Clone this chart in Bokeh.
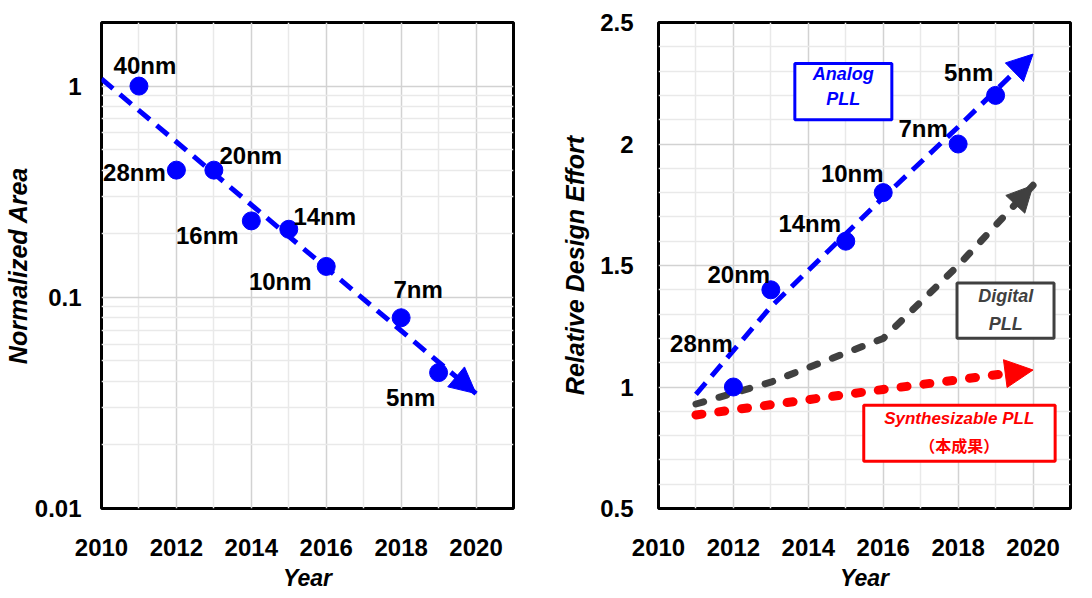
from bokeh.plotting import figure
from bokeh.layouts import row
from bokeh.models import (ColumnDataSource, FixedTicker, Range1d, Label, BoxAnnotation,
                          Arrow, NormalHead, CustomJSTickFormatter)
from bokeh.core.properties import value
from bokeh.embed import file_html
from bokeh.resources import INLINE

# ---------------- data ----------------
year_ticks = [2010, 2012, 2014, 2016, 2018, 2020]
year_minor = [2011, 2013, 2015, 2017, 2019, 2021]

# left: normalized area (log)
area_years = [2011, 2012, 2013, 2014, 2015, 2016, 2018, 2019]
area_values = [1.0, 0.40, 0.40, 0.23, 0.21, 0.14, 0.08, 0.044]
area_nodes = ["40nm", "28nm", "20nm", "16nm", "14nm", "10nm", "7nm", "5nm"]
area_trend_x = [2010, 2020]
area_trend_y = [1.08, 0.035]
area_ticks = [0.01, 0.1, 1]
area_minor = [0.02, 0.03, 0.04, 0.05, 0.06, 0.07, 0.08, 0.09,
              0.2, 0.3, 0.4, 0.5, 0.6, 0.7, 0.8, 0.9, 2]

# right: relative design effort
effort_years = [2012, 2013, 2015, 2016, 2018, 2019]
effort_values = [1.0, 1.4, 1.6, 1.8, 2.0, 2.2]
effort_nodes = ["28nm", "20nm", "14nm", "10nm", "7nm", "5nm"]
analog_x = [2011, 2013, 2016, 2018, 2020]
analog_y = [0.97, 1.33, 1.78, 2.07, 2.37]
digital_x = [2011, 2013, 2014, 2016, 2018, 2020]
digital_y = [0.93, 1.02, 1.08, 1.20, 1.50, 1.83]
synth_x = [2011, 2016, 2020]
synth_y = [0.885, 0.99, 1.07]
effort_ticks = [0.5, 1.0, 1.5, 2.0, 2.5]
effort_minor = [0.6, 0.7, 0.8, 0.9, 1.1, 1.2, 1.3, 1.4, 1.6, 1.7, 1.8, 1.9,
                2.1, 2.2, 2.3, 2.4]

# label pixel offsets (style)
area_dx = [6, -42, 37, -44, 36, -46, 17, -28]
area_dy = [-21, 2, -15, 15, -13, 15, -28, 25]
effort_dx = [-32, -32, -36, -31, -35, -27]
effort_dy = [-44, -15, -18, -19, -16, -23]

FONT = "Liberation Sans"
BLUE = "#0000ff"
GRAY = "#404040"
RED = "#ff0000"


def style(p, xt, yt):
    p.outline_line_color = "black"
    p.outline_line_width = 3
    p.background_fill_color = "white"
    p.border_fill_color = "white"
    for ax in (p.xaxis[0], p.yaxis[0]):
        ax.axis_line_color = None
        ax.major_tick_line_color = None
        ax.minor_tick_line_color = None
        ax.major_tick_out = 0
        ax.major_tick_in = 0
        ax.minor_tick_out = 0
        ax.minor_tick_in = 0
        ax.major_label_text_font = FONT
        ax.major_label_text_font_style = "bold"
        ax.major_label_text_font_size = "24px"
        ax.major_label_text_color = "black"
        ax.axis_label_text_font = FONT
        ax.axis_label_text_font_style = "bold italic"
        ax.axis_label_text_color = "black"
    p.xaxis[0].axis_label_text_font_size = "23px"
    p.yaxis[0].axis_label_text_font_size = "25px"
    p.xaxis[0].ticker = xt
    p.yaxis[0].ticker = yt
    p.xgrid[0].ticker = xt
    p.ygrid[0].ticker = yt
    p.xaxis[0].major_label_standoff = 30
    p.xaxis[0].axis_label_standoff = 6
    for g in (p.xgrid[0], p.ygrid[0]):
        g.grid_line_color = "#d2d2d2"
        g.grid_line_width = 1.5
        g.minor_grid_line_color = "#e9e9e9"
        g.minor_grid_line_width = 1.5


def head(color, size):
    return NormalHead(size=size, fill_color=color, line_color=color)


# ---------------- left figure ----------------
p1 = figure(width=546, height=595, frame_width=412, frame_height=486,
            x_range=Range1d(2010, 2021), y_range=Range1d(0.01, 2.0),
            y_axis_type="log", output_backend="svg", toolbar_location=None,
            min_border_left=95, min_border_right=39, min_border_top=22, min_border_bottom=87,
            x_axis_label="Year", y_axis_label="Normalized Area")
style(p1, FixedTicker(ticks=year_ticks, minor_ticks=year_minor),
      FixedTicker(ticks=area_ticks, minor_ticks=area_minor))
p1.yaxis[0].formatter = CustomJSTickFormatter(code="return String(tick)")
p1.yaxis[0].major_label_standoff = 20
p1.yaxis[0].axis_label_standoff = 0

p1.line(area_trend_x, area_trend_y, line_color=BLUE, line_width=5, line_dash="15 9")
p1.add_layout(Arrow(end=head(BLUE, 26),
                    x_start=area_trend_x[-2], y_start=area_trend_y[-2],
                    x_end=area_trend_x[-1], y_end=area_trend_y[-1], line_alpha=0))
src1 = ColumnDataSource(dict(x=area_years, y=area_values, t=area_nodes, dx=area_dx, dy=area_dy))
p1.scatter("x", "y", source=src1, size=18, color=BLUE)
p1.text("x", "y", text="t", source=src1, x_offset="dx", y_offset="dy",
        text_align="center", text_baseline="middle", text_font=value(FONT),
        text_font_style="bold", text_font_size="24px", text_color="black")

# ---------------- right figure ----------------
p2 = figure(width=530, height=595, frame_width=412, frame_height=486,
            x_range=Range1d(2010, 2021), y_range=Range1d(0.5, 2.5),
            output_backend="svg", toolbar_location=None,
            min_border_left=106, min_border_right=12, min_border_top=22, min_border_bottom=87,
            x_axis_label="Year", y_axis_label="Relative Design Effort")
style(p2, FixedTicker(ticks=year_ticks, minor_ticks=year_minor),
      FixedTicker(ticks=effort_ticks, minor_ticks=effort_minor))
p2.yaxis[0].formatter = CustomJSTickFormatter(code="return String(tick)")
p2.yaxis[0].major_label_standoff = 25
p2.yaxis[0].axis_label_standoff = 8

# boxes (annotations)
box_kw = dict(fill_color="white", fill_alpha=1, line_alpha=1, line_width=3)
p2.add_layout(BoxAnnotation(left=2013.64, right=2016.23, bottom=2.10, top=2.331,
                            line_color=BLUE, **box_kw))
p2.add_layout(BoxAnnotation(left=2017.97, right=2020.56, bottom=1.201, top=1.428,
                            line_color=GRAY, **box_kw))
p2.add_layout(BoxAnnotation(left=2015.48, right=2020.59, bottom=0.694, top=0.925,
                            line_color=RED, **box_kw))

# trend lines
p2.line(synth_x, synth_y, line_color=RED, line_width=9, line_dash="6 17", line_cap="round")
p2.add_layout(Arrow(end=head(RED, 28),
                    x_start=synth_x[-2], y_start=synth_y[-2], x_end=synth_x[-1], y_end=synth_y[-1],
                    line_alpha=0))
p2.line(digital_x, digital_y, line_color=GRAY, line_width=7, line_dash="8 16", line_cap="round")
p2.add_layout(Arrow(end=head(GRAY, 26),
                    x_start=digital_x[-2], y_start=digital_y[-2], x_end=digital_x[-1], y_end=digital_y[-1],
                    line_alpha=0))
p2.line(analog_x, analog_y, line_color=BLUE, line_width=5, line_dash="15 9")
p2.add_layout(Arrow(end=head(BLUE, 26),
                    x_start=analog_x[-2], y_start=analog_y[-2], x_end=analog_x[-1], y_end=analog_y[-1],
                    line_alpha=0))

src2 = ColumnDataSource(dict(x=effort_years, y=effort_values, t=effort_nodes, dx=effort_dx, dy=effort_dy))
p2.scatter("x", "y", source=src2, size=18, color=BLUE)
p2.text("x", "y", text="t", source=src2, x_offset="dx", y_offset="dy",
        text_align="center", text_baseline="middle", text_font=value(FONT),
        text_font_style="bold", text_font_size="24px", text_color="black")


def box_text(p, x, y, txt, color, font=FONT, size="18px", style_="bold italic"):
    p.add_layout(Label(x=x, y=y, text=txt, text_align="center", text_baseline="middle",
                       text_font=font, text_font_style=style_, text_font_size=size,
                       text_color=color))


box_text(p2, 2014.93, 2.29, "Analog", BLUE)
box_text(p2, 2014.93, 2.185, "PLL", BLUE)
box_text(p2, 2019.27, 1.375, "Digital", GRAY)
box_text(p2, 2019.27, 1.26, "PLL", GRAY)
box_text(p2, 2018.03, 0.87, "Synthesizable PLL", RED, size="17px")
box_text(p2, 2018.03, 0.76, "（本成果）", RED, font="Noto Sans CJK JP", size="16px", style_="bold")

layout = row(p1, p2)
open("out.html", "w").write(file_html(layout, INLINE))
